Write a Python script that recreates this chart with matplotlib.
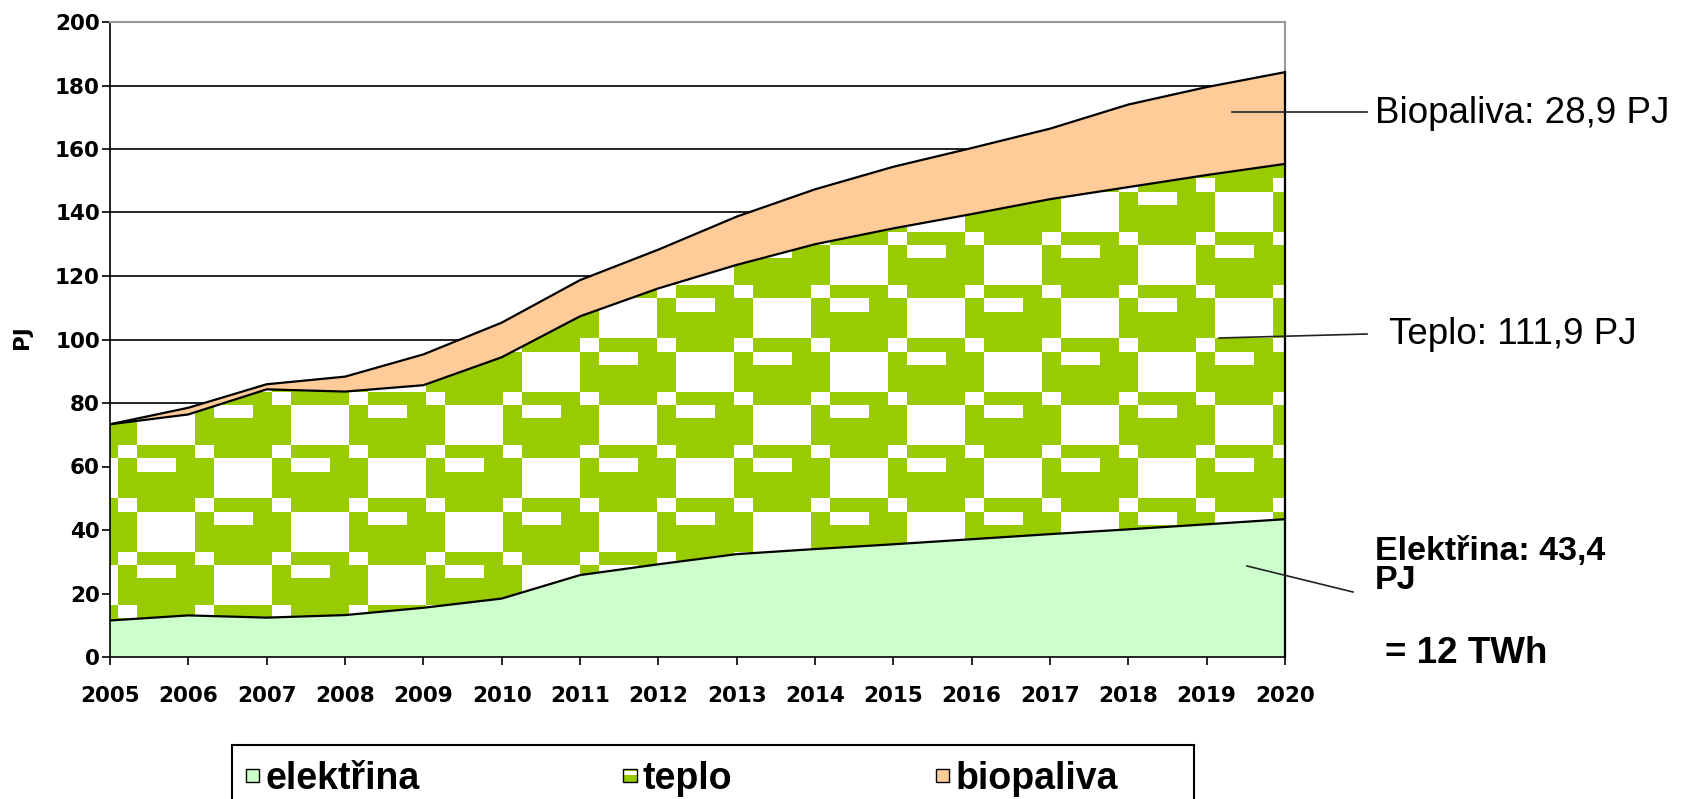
import numpy as np
import matplotlib
matplotlib.use("Agg")
import matplotlib.pyplot as plt
from matplotlib.patches import Patch, Rectangle
from matplotlib.legend_handler import HandlerPatch

# ---------------- data ----------------
years = list(range(2005, 2021))
elektrina = [11.5, 13.1, 12.4, 13.2, 15.5, 18.4, 25.8, 29.2, 32.4, 34.0,
             35.5, 37.1, 38.7, 40.2, 41.8, 43.4]
teplo = [61.8, 63.3, 71.9, 70.4, 70.1, 76.0, 81.5, 86.9, 91.1, 96.0,
         99.5, 102.4, 105.5, 107.8, 110.0, 111.9]
biopaliva = [0.0, 2.1, 1.6, 4.7, 9.7, 10.9, 11.4, 12.2, 15.2, 17.3,
             19.4, 20.8, 22.2, 26.0, 27.7, 28.9]
series_names = ["elektřina", "teplo", "biopaliva"]
y_ticks = list(range(0, 201, 20))
y_label = "PJ"
label_bio = "Biopaliva: 28,9 PJ"
label_teplo = "Teplo: 111,9 PJ"
label_elek = "Elektřina: 43,4\nPJ"
label_twh = "= 12 TWh"

# ---------------- style ----------------
C_ELEK = "#CCFFCC"
C_TEPLO = "#99CC00"
C_BIO = "#FFCC99"
plt.rcParams["font.family"] = ["Liberation Sans", "DejaVu Sans"]
TICK_FONT = {"family": "DejaVu Sans", "weight": "bold", "size": 15.5}

W, H = 1693, 799
fig = plt.figure(figsize=(W / 100, H / 100), dpi=100)
ax = fig.add_axes([110 / W, 1 - 657 / H, 1175 / W, 635 / H])

x = np.array(years, dtype=float)
c1 = np.array(elektrina)
c2 = c1 + np.array(teplo)
c3 = c2 + np.array(biopaliva)

ax.fill_between(x, 0, c1, facecolor=C_ELEK, edgecolor="none", zorder=2)
poly_t = ax.fill_between(x, c1, c2, facecolor=C_TEPLO, edgecolor="none", zorder=2)
ax.fill_between(x, c2, c3, facecolor=C_BIO, edgecolor="none", zorder=2)

# pattern fill for "teplo" (8x8 bitmap tile, 1 = white)
tile = np.array([
    [1, 0, 0, 0, 1, 0, 0, 0],
    [0, 1, 1, 1, 0, 1, 1, 0],
    [0, 1, 1, 1, 0, 0, 0, 0],
    [0, 1, 1, 1, 0, 0, 0, 0],
    [1, 0, 0, 0, 1, 0, 0, 0],
    [0, 1, 1, 0, 0, 1, 1, 1],
    [0, 0, 0, 0, 0, 1, 1, 1],
    [0, 0, 0, 0, 0, 1, 1, 1],
])
ntx, nty = 10, 9
pat = np.tile(tile, (nty, ntx))
green = np.array([0x99, 0xCC, 0x00]) / 255.0
rgb = np.where(pat[..., None] == 1, np.ones(3), green)
px_per_year = 1175 / 15.0
px_per_unit = 635 / 200.0
cw = 19.25 / px_per_year          # cell width in years
rh = 13.33 / px_per_unit          # cell height in data units
x0 = 2011.0 - 5 * 8 * cw
ytop = 83.56 + 4 * 8 * rh
extent = (x0, x0 + ntx * 8 * cw, ytop - nty * 8 * rh, ytop)
im = ax.imshow(rgb, extent=extent, origin="upper", aspect="auto",
               interpolation="nearest", zorder=2.5)
im.set_clip_path(poly_t.get_paths()[0], transform=ax.transData)

# outlines
for c in (c1, c2, c3):
    ax.plot(x, c, color="black", lw=1.6, zorder=4, solid_joinstyle="round")
ax.plot([x[-1], x[-1]], [0, c3[-1]], color="black", lw=1.6, zorder=4, clip_on=False)

# axes
ax.set_xlim(years[0], years[-1])
ax.set_ylim(0, 200)
ax.set_xticks(years)
ax.set_xticklabels([str(y) for y in years], fontdict=TICK_FONT)
ax.set_yticks(y_ticks)
ax.set_yticklabels([str(v) for v in y_ticks], fontdict=TICK_FONT)
ax.set_axisbelow(True)
ax.yaxis.grid(True, color="#111111", lw=1.3)
ax.get_ygridlines()[-1].set_visible(False)
ax.get_ygridlines()[0].set_visible(False)

for side in ("left", "bottom"):
    ax.spines[side].set_color("black")
    ax.spines[side].set_linewidth(1.2)
for side in ("top", "right"):
    ax.spines[side].set_color("#9a9a9a")
    ax.spines[side].set_linewidth(1.5)

ax.tick_params(axis="both", direction="out", length=5.8, width=1.2, color="black")
ax.tick_params(axis="y", pad=1.5)
ax.tick_params(axis="x", pad=15)

ax.set_ylabel(y_label, fontdict=TICK_FONT)
ax.yaxis.set_label_coords(-0.0749, 0.504)
ax.yaxis.label.set_va("center")

# annotations
def dx(px):
    return years[0] + (px - 110) / px_per_year

def dy(py):
    return (657 - py) / px_per_unit

line_kw = dict(color="#222222", lw=1.2, clip_on=False, zorder=5)
ax.plot([dx(1232), dx(1367)], [dy(112), dy(112)], **line_kw)
ax.plot([dx(1219), dx(1367)], [dy(338), dy(334)], **line_kw)
ax.plot([dx(1247), dx(1353)], [dy(566), dy(592)], **line_kw)

ax.text(dx(1375), dy(123), label_bio, fontsize=26.5, ha="left", va="baseline", clip_on=False)
ax.text(dx(1389), dy(344), label_teplo, fontsize=26.5, ha="left", va="baseline", clip_on=False)
ax.text(dx(1375), dy(589), label_elek, fontsize=24.5, fontweight="bold", ha="left",
        va="baseline", linespacing=0.9, clip_on=False)
ax.text(dx(1385), dy(663), label_twh, fontsize=26.5, fontweight="bold", ha="left",
        va="baseline", clip_on=False)

# legend
class PatternHandler(HandlerPatch):
    def create_artists(self, legend, orig_handle, xdescent, ydescent, width,
                       height, fontsize, trans):
        base = Rectangle((-xdescent, -ydescent), width, height, facecolor=C_TEPLO,
                         edgecolor="none", transform=trans)
        strip = Rectangle((-xdescent, -ydescent + height * 0.55), width, height * 0.3,
                          facecolor="white", edgecolor="none", transform=trans)
        edge = Rectangle((-xdescent, -ydescent), width, height, facecolor="none",
                         edgecolor="black", lw=1.0, transform=trans)
        return [base, strip, edge]

handles = [Patch(facecolor=C_ELEK, edgecolor="black", lw=1.0),
           Patch(facecolor=C_TEPLO, edgecolor="black", lw=1.0),
           Patch(facecolor=C_BIO, edgecolor="black", lw=1.0)]
frame = Rectangle((232 / W, -0.1), (1194 - 232) / W, (799 - 745) / H + 0.1,
                  transform=fig.transFigure, facecolor="white", edgecolor="black",
                  lw=1.5, zorder=1)
fig.add_artist(frame)
leg = fig.legend(handles, series_names, loc="center left",
                 bbox_to_anchor=(246 / W, 1 - 779 / H), ncol=3, frameon=False,
                 prop={"family": "Liberation Sans", "weight": "bold", "size": 27},
                 handlelength=0.35, handleheight=0.157, handletextpad=0.16,
                 columnspacing=5.44, borderpad=0, borderaxespad=0,
                 handler_map={handles[1]: PatternHandler()})
leg.set_zorder(5)

fig.savefig("out.png", dpi=100, facecolor="white")
